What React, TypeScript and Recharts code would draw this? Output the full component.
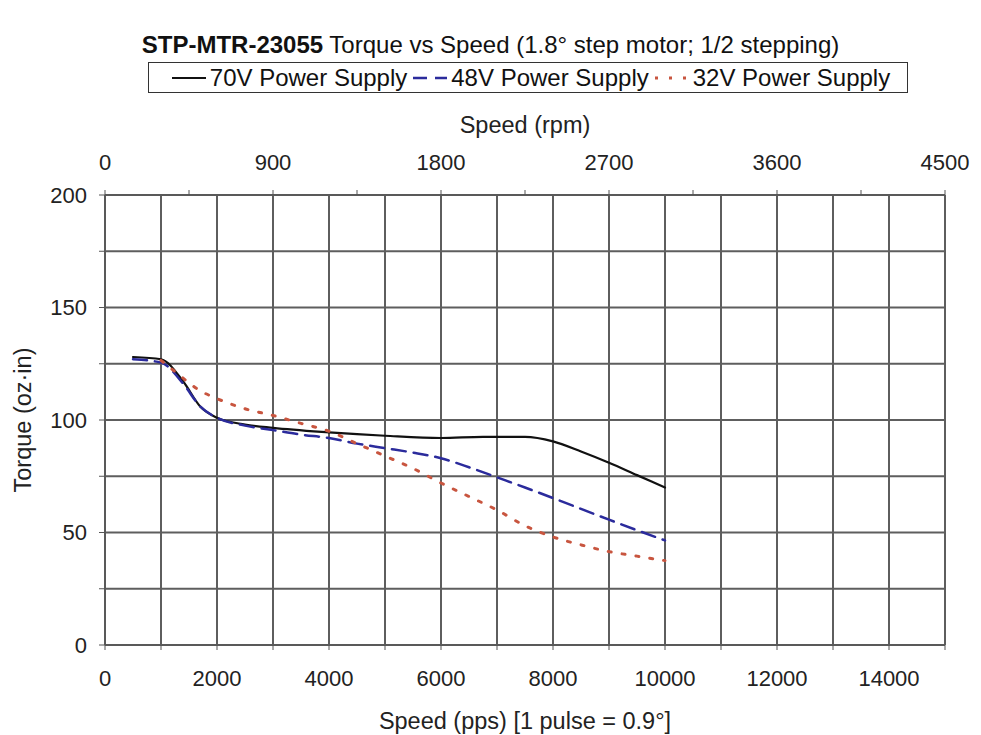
import React from "react";
import {
  LineChart,
  Line,
  XAxis,
  YAxis,
  CartesianGrid,
} from "recharts";

const FONT = "'Liberation Sans', Arial, sans-serif";

// speed in pps, torque in oz-in
const pps70 = [500, 1000, 1400, 1700, 2000, 2500, 3000, 4000, 5000, 6000, 6750, 7500, 8000, 8500, 9000, 9500, 10000];
const torque70 = [128, 127, 117, 106, 101, 98, 96.5, 94.5, 93, 92, 92.5, 92.5, 90.5, 86, 81, 75.5, 70];

const pps48 = [500, 1000, 1400, 1700, 2000, 2500, 3000, 3500, 4000, 4500, 5000, 5500, 6000, 6500, 7000, 7500, 8000, 8500, 9000, 9500, 10000];
const torque48 = [127, 125.5, 116, 106, 101, 97.5, 95.5, 93.5, 92, 89.5, 87.5, 85.5, 83, 79, 74.5, 70, 65.3, 60.5, 55.7, 51, 46.5];

const pps32 = [1000, 1250, 1700, 2000, 2500, 3000, 3500, 4000, 4500, 5000, 5500, 6000, 6500, 7000, 7500, 8000, 8500, 9000, 9500, 10000];
const torque32 = [126.5, 121.5, 113, 109.5, 105, 102, 98.5, 95, 89.5, 84, 78.5, 72, 66, 60, 53, 48, 44.5, 41.5, 39.5, 37.5];

const ppsTicks = [0, 1000, 2000, 3000, 4000, 5000, 6000, 7000, 8000, 9000, 10000, 11000, 12000, 13000, 14000, 15000];
const rpmTicks = [0, 450, 900, 1350, 1800, 2250, 2700, 3150, 3600, 4050, 4500];
const torqueTicks = [0, 25, 50, 75, 100, 125, 150, 175, 200];

const series = [
  { name: "70V Power Supply", pps: pps70, torque: torque70, color: "#111111", dash: undefined, width: 2.2 },
  { name: "48V Power Supply", pps: pps48, torque: torque48, color: "#2b2b9c", dash: "14 8", width: 2.5 },
  { name: "32V Power Supply", pps: pps32, torque: torque32, color: "#c8553f", dash: "3 11", width: 3 },
];

const toPoints = (xs: number[], ys: number[]) => xs.map((x, i) => ({ pps: x, torque: ys[i] }));
// empty series so the rpm axis has something to scale against
const rpmAnchor = rpmTicks.map((r) => ({ rpm: r, torque: null }));

function LegendBox() {
  return (
    <div
      style={{
        position: "absolute",
        left: 148,
        top: 62,
        width: 760,
        height: 31,
        boxSizing: "border-box",
        border: "1.5px solid #333",
        display: "flex",
        alignItems: "center",
        justifyContent: "center",
        fontFamily: FONT,
        fontSize: 24,
        color: "#111",
        background: "#fff",
        zIndex: 1,
      }}
    >
      {series.map((s) => (
        <span key={s.name} style={{ display: "flex", alignItems: "center" }}>
          <svg width={42} height={10} style={{ marginRight: 2 }}>
            <line x1={6} y1={5} x2={40} y2={5} stroke={s.color} strokeWidth={s.width} strokeDasharray={s.dash} />
          </svg>
          {s.name}
        </span>
      ))}
    </div>
  );
}

export default function App() {
  const tickStyle = { fontSize: 22, fill: "#222", fontFamily: FONT };
  const titleStyle = { fontSize: 23.5, fill: "#222", fontFamily: FONT };
  return (
    <div style={{ position: "absolute", left: 0, top: 0, width: 981, height: 735, background: "#fff" }}>
      <div
        style={{
          position: "absolute",
          left: 0,
          top: 31,
          width: 981,
          textAlign: "center",
          fontFamily: FONT,
          fontSize: 24,
          color: "#111",
          zIndex: 1,
        }}
      >
        <b>STP-MTR-23055</b> Torque vs Speed (1.8° step motor; 1/2 stepping)
      </div>
      <LegendBox />
      <LineChart width={981} height={735} margin={{ top: 100, right: 36, bottom: 0, left: 0 }}>
        <CartesianGrid xAxisId="pps" stroke="#5e5e5e" strokeWidth={2} />
        <XAxis
          xAxisId="pps"
          dataKey="pps"
          type="number"
          domain={[0, 15000]}
          ticks={ppsTicks}
          interval={0}
          height={90}
          tickSize={5}
          tickMargin={20}
          tickFormatter={(v: number) => (v % 2000 === 0 && v < 15000 ? String(v) : "")}
          tick={tickStyle}
          stroke="#555"
          label={{ value: "Speed (pps) [1 pulse = 0.9°]", position: "insideBottom", offset: 6, style: titleStyle }}
        />
        <XAxis
          xAxisId="rpm"
          dataKey="rpm"
          orientation="top"
          type="number"
          domain={[0, 4500]}
          allowDataOverflow
          ticks={rpmTicks}
          interval={0}
          height={95}
          tickSize={5}
          tickMargin={20}
          tickFormatter={(v: number) => (v % 900 === 0 ? String(v) : "")}
          tick={tickStyle}
          stroke="#555"
          label={{ value: "Speed (rpm)", position: "insideTop", offset: 16, style: titleStyle }}
        />
        <YAxis
          type="number"
          domain={[0, 200]}
          ticks={torqueTicks}
          interval={0}
          width={105}
          tickSize={6}
          tickMargin={12}
          tickFormatter={(v: number) => (v % 50 === 0 ? String(v) : "")}
          tick={tickStyle}
          stroke="#555"
          label={{ value: "Torque (oz·in)", angle: -90, position: "insideLeft", offset: 23, style: { ...titleStyle, textAnchor: "middle" } }}
        />
        <Line
          xAxisId="rpm"
          data={rpmAnchor}
          dataKey="torque"
          stroke="none"
          dot={false}
          legendType="none"
          isAnimationActive={false}
        />
        {series.map((s) => (
          <Line
            key={s.name}
            xAxisId="pps"
            data={toPoints(s.pps, s.torque)}
            dataKey="torque"
            name={s.name}
            type="monotone"
            stroke={s.color}
            strokeWidth={s.width}
            strokeDasharray={s.dash}
            strokeLinecap="round"
            dot={false}
            isAnimationActive={false}
          />
        ))}
      </LineChart>
    </div>
  );
}
